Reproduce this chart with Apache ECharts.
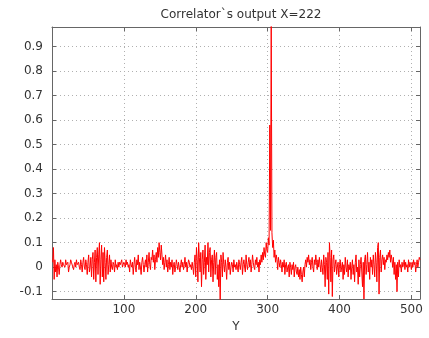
<!DOCTYPE html>
<html><head><meta charset="utf-8">
<script src="https://cdn.jsdelivr.net/npm/echarts@6/dist/echarts.min.js"></script>
<style>html,body{margin:0;padding:0;background:#fff}#c{width:429px;height:338px}</style>
</head><body><div id="c"></div>
<script>
const titleText = "Correlator`s output X=222";
const xLabel = "Y";
const xStart = 1;
const yValues = [
0.02,0.08,-0.05,0.03,-0.02,0.01,-0.04,0.02,0.00,-0.03,0.01,0.03,0.01,0.00,0.02,0.01,0.01,0.00,0.03,0.01,0.01,0.02,-0.02,0.00,0.01,0.03,0.02,0.02,0.00,-0.01,0.01,0.02,
0.00,0.03,0.01,0.01,0.02,0.00,-0.01,0.03,0.01,-0.02,0.02,0.04,0.00,-0.01,0.03,0.01,-0.03,0.02,0.05,-0.02,0.00,0.04,-0.04,0.03,0.06,-0.05,0.02,0.07,-0.06,0.04,0.08,-0.03,
0.05,0.10,-0.07,0.03,0.09,-0.04,0.06,-0.06,0.08,0.02,-0.05,0.04,0.07,-0.03,0.01,0.05,-0.02,0.03,0.00,-0.01,0.02,0.01,-0.02,0.03,0.00,0.01,-0.01,0.02,0.00,0.02,0.01,0.01,
0.03,0.00,0.01,0.02,0.01,0.00,0.03,0.01,0.02,0.00,0.01,-0.02,0.03,0.01,0.00,0.02,-0.03,0.01,0.04,0.00,-0.02,0.03,0.01,0.05,-0.01,0.02,0.00,-0.03,0.02,0.04,0.01,-0.02,
0.01,0.03,0.00,0.05,-0.02,0.02,0.06,0.01,-0.01,0.04,0.03,0.07,0.02,0.05,-0.01,0.03,0.06,0.02,0.08,0.04,0.10,0.06,0.03,0.09,0.05,0.01,0.04,-0.01,0.02,0.05,0.00,0.03,
-0.02,0.01,0.04,-0.01,0.02,0.00,0.03,-0.03,0.01,0.02,-0.02,0.00,0.03,0.01,-0.01,0.02,0.00,-0.02,0.01,0.03,0.00,0.02,-0.01,0.01,0.04,0.00,0.02,-0.02,0.01,0.03,0.02,0.00,
0.01,-0.01,0.02,0.00,-0.03,0.02,0.05,-0.04,0.08,0.03,-0.06,0.10,0.04,-0.02,0.06,-0.08,0.03,0.07,-0.03,0.02,0.09,-0.05,0.04,0.01,0.10,-0.02,0.06,0.08,-0.04,0.03,0.05,-0.06,
0.02,0.07,-0.03,0.04,0.06,-0.05,0.01,-0.08,0.03,-0.14,0.05,0.02,-0.04,0.06,0.01,-0.02,0.03,0.00,-0.05,0.02,0.04,-0.01,0.02,-0.03,0.00,0.02,0.01,-0.02,0.03,0.00,0.01,-0.01,
0.02,0.00,-0.02,0.03,0.01,-0.01,0.02,0.04,-0.03,0.01,0.03,0.00,-0.02,0.05,0.01,-0.01,0.02,0.04,0.00,0.03,-0.02,0.01,0.05,0.02,0.00,-0.01,0.03,0.01,0.04,0.00,0.02,-0.02,
0.03,0.01,0.05,0.02,0.06,0.03,0.08,0.05,0.04,0.10,0.07,0.06,0.12,0.09,0.58,0.15,1.00,0.14,0.08,0.11,0.04,0.07,0.02,0.05,0.03,-0.01,0.04,0.02,0.00,0.03,0.01,-0.02,
0.02,0.00,0.03,-0.03,0.01,0.02,-0.02,0.00,0.01,-0.04,0.02,0.00,-0.03,0.01,-0.01,0.02,-0.04,0.00,0.01,-0.02,-0.03,0.00,-0.04,-0.01,-0.05,0.00,-0.03,-0.06,-0.02,0.00,-0.04,0.01,
0.03,0.00,0.04,0.02,0.05,0.01,0.03,-0.01,0.02,0.04,0.00,-0.02,0.03,0.01,0.05,0.02,-0.01,0.03,0.00,0.04,0.01,-0.02,0.03,0.00,-0.03,0.05,0.01,-0.08,0.04,0.02,-0.05,0.06,
-0.11,0.10,0.04,-0.06,0.07,-0.12,0.03,0.05,-0.02,0.01,0.03,-0.03,0.00,0.02,-0.04,0.01,0.03,-0.02,0.00,0.02,-0.05,0.01,-0.03,0.04,0.00,-0.02,0.03,-0.04,0.01,-0.01,0.02,-0.05,
0.00,0.03,-0.03,0.01,-0.06,0.02,0.05,-0.02,0.00,-0.07,0.03,-0.04,0.01,0.04,-0.02,-0.08,0.02,-0.13,0.03,0.05,-0.03,0.01,0.06,-0.02,0.02,-0.05,0.04,0.00,0.03,-0.03,0.05,0.01,
-0.04,0.06,0.02,-0.06,0.08,0.10,-0.11,0.04,0.07,-0.02,0.03,0.05,0.01,0.04,-0.01,0.03,0.02,0.05,0.03,0.06,0.04,0.07,0.02,0.05,0.03,0.00,0.04,-0.03,0.02,-0.05,0.01,-0.10,
0.02,-0.04,0.03,0.00,0.01,-0.02,0.02,0.00,0.01,0.03,-0.01,0.02,0.00,0.01,-0.02,0.03,0.00,0.02,0.01,-0.01,0.02,0.00,0.03,0.01,0.02,-0.02,0.01,0.03,0.00,0.02,0.04,0.03
];
const xTicks = [100, 200, 300, 400, 500];
const yTicks = [-0.1, 0, 0.1, 0.2, 0.3, 0.4, 0.5, 0.6, 0.7, 0.8, 0.9];

const data = yValues.map((v, i) => [xStart + i, v]);
const axisCol = '#666';
const font = 'DejaVu Sans, Liberation Sans, sans-serif';
const chart = echarts.init(document.getElementById('c'), null, {renderer: 'canvas'});
const xBase = {
  type: 'value', min: 0, max: 512, interval: 100,
  axisLine: {show: true, onZero: false, lineStyle: {color: axisCol, width: 1}},
  axisTick: {show: true, inside: true, length: 4, lineStyle: {color: axisCol}},
  splitLine: {show: false},
};
const yBase = {
  type: 'value', min: -0.13, max: 0.98, interval: 0.1,
  axisLine: {show: true, onZero: false, lineStyle: {color: axisCol, width: 1}},
  axisTick: {show: true, inside: true, length: 4, lineStyle: {color: axisCol}},
  splitLine: {show: false},
};
chart.setOption({
  animation: false,
  title: {text: titleText, left: 236, top: 4, textAlign: 'center',
    textStyle: {fontFamily: font, fontSize: 12, fontWeight: 'normal', color: '#333'}},
  grid: {left: 52, right: 9, top: 27, bottom: 33, containLabel: false},
  xAxis: [
    Object.assign({}, xBase, {
      position: 'bottom', name: xLabel, nameLocation: 'middle', nameGap: 22,
      nameTextStyle: {fontFamily: font, fontSize: 12, color: '#333'},
      splitLine: {show: true, lineStyle: {color: '#b0b0b0', type: [1, 3], width: 1}},
      axisLabel: {show: true, fontFamily: font, fontSize: 12, color: '#333', margin: 5,
        formatter: v => xTicks.includes(v) ? String(v) : ''},
    }),
    Object.assign({}, xBase, {position: 'top', axisLabel: {show: false}}),
  ],
  yAxis: [
    Object.assign({}, yBase, {
      position: 'left',
      splitLine: {show: true, lineStyle: {color: '#b0b0b0', type: [1, 3], width: 1}},
      axisLabel: {show: true, fontFamily: font, fontSize: 12, color: '#333', margin: 9,
        customValues: yTicks, formatter: v => String(Math.round(v * 10) / 10)},
      axisTick: {show: true, inside: true, length: 4, lineStyle: {color: axisCol}, customValues: yTicks},
    }),
    Object.assign({}, yBase, {position: 'right', axisLabel: {show: false},
      axisTick: {show: true, inside: true, length: 4, lineStyle: {color: axisCol}, customValues: yTicks}}),
  ],
  series: [{
    type: 'line', data: data, xAxisIndex: 0, yAxisIndex: 0,
    showSymbol: false, symbol: 'none', clip: true,
    lineStyle: {color: '#ff0000', width: 1}
  }]
});
</script></body></html>
